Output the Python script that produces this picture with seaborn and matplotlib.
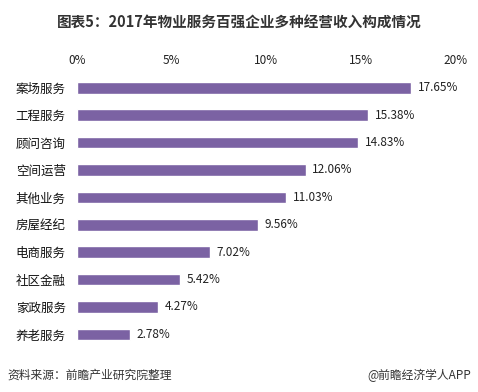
import matplotlib
matplotlib.use('Agg')
import matplotlib.pyplot as plt
import seaborn as sns
import pandas as pd

# Data
categories = ['案场服务', '工程服务', '顾问咨询', '空间运营', '其他业务',
              '房屋经纪', '电商服务', '社区金融', '家政服务', '养老服务']
shares = [17.65, 15.38, 14.83, 12.06, 11.03, 9.56, 7.02, 5.42, 4.27, 2.78]
x_ticks = [0, 5, 10, 15, 20]
x_tick_labels = ['0%', '5%', '10%', '15%', '20%']

sns.set_style('white')
plt.rcParams['font.family'] = ['Noto Sans CJK SC', 'DejaVu Sans']

df = pd.DataFrame({'category': categories, 'share': shares})

fig = plt.figure(figsize=(4.78, 3.92), dpi=100)
ax = fig.add_axes([0.161, 0.112, 0.793, 0.699])
sns.barplot(data=df, x='share', y='category', color='#7b62a3', saturation=1,
            width=0.42, ax=ax)

ax.set_xlim(0, 20)
ax.set_xticks(x_ticks)
ax.set_xticklabels(x_tick_labels, fontsize=8.5, color='#222222')
ax.xaxis.tick_top()
ax.tick_params(axis='x', length=0, pad=5)
ax.tick_params(axis='y', length=0, pad=8, labelsize=9, labelcolor='#111111')
ax.set_xlabel('')
ax.set_ylabel('')
sns.despine(ax=ax, left=True, bottom=True, top=True, right=True)

for i, v in enumerate(shares):
    ax.text(v + 0.35, i, f'{v:.2f}%', va='center', ha='left', fontsize=8.5, color='#222222')

fig.text(0.5, 0.943, '图表5：2017年物业服务百强企业多种经营收入构成情况',
         ha='center', va='center', fontsize=10.5, fontweight='bold', color='#333333')
fig.text(0.015, 0.043, '资料来源：前瞻产业研究院整理', ha='left', va='center',
         fontsize=8.5, color='#333333', style='italic')
fig.text(0.985, 0.043, '@前瞻经济学人APP', ha='right', va='center',
         fontsize=8.5, color='#333333')

fig.savefig('out.png', dpi=100)
plt.close(fig)
